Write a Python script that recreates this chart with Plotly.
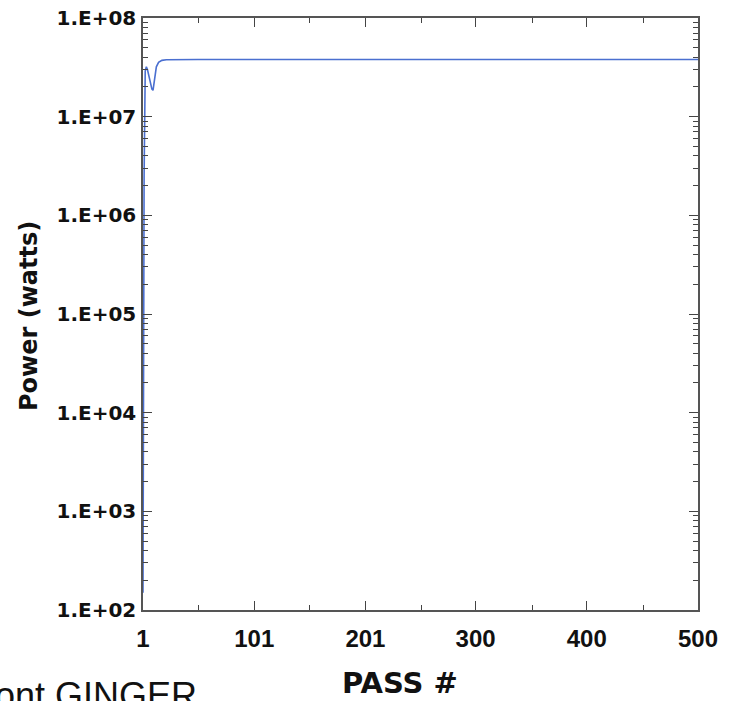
import plotly.graph_objects as go

passes = [1, 2, 3, 4, 5, 6, 7, 8, 9, 10, 11, 12, 13, 15, 18, 22, 30, 50, 100, 150, 200, 250, 300, 350, 400, 450, 500]
power = [150, 2.5e6, 2.9e7, 3.2e7, 3.0e7, 2.7e7, 2.3e7, 2.05e7, 1.9e7, 1.85e7, 2.3e7, 2.85e7, 3.2e7, 3.55e7, 3.72e7, 3.78e7, 3.8e7,
         3.8e7, 3.79e7, 3.8e7, 3.8e7, 3.79e7, 3.8e7, 3.8e7, 3.8e7, 3.8e7, 3.8e7]

x_tickvals = [1, 101, 201, 300, 400, 500]
x_ticktext = ["1", "101", "201", "300", "400", "500"]
x_minor = [51, 151, 251, 351, 451]
y_tickvals = [1e2, 1e3, 1e4, 1e5, 1e6, 1e7, 1e8]
y_ticktext = ["1.E+02", "1.E+03", "1.E+04", "1.E+05", "1.E+06", "1.E+07", "1.E+08"]

arial = "Liberation Sans, Arial, sans-serif"
dejavu = "DejaVu Sans, sans-serif"

fig = go.Figure()
fig.add_trace(go.Scatter(x=passes, y=power, mode="lines",
                         line=dict(color="#4a6fd0", width=1.6), showlegend=False))

axis_common = dict(showline=True, linecolor="#555555", linewidth=1.5, mirror="ticks",
                   ticks="inside", ticklen=9, tickwidth=1.3, tickcolor="#444444",
                   showgrid=False, zeroline=False, automargin=False)

fig.update_layout(
    width=741, height=701,
    margin=dict(l=143, r=43, t=18, b=91),
    paper_bgcolor="white", plot_bgcolor="white",
    xaxis=dict(range=[1, 500], tickvals=x_tickvals, ticktext=x_ticktext,
               minor=dict(tickvals=x_minor, ticklen=5, ticks="inside", tickcolor="#444444"),
               ticklabelstandoff=6,
               tickfont=dict(family=arial, size=24, color="#111111", weight="bold"),
               **axis_common),
    yaxis=dict(type="log", range=[2, 8], tickvals=y_tickvals, ticktext=y_ticktext,
               minor=dict(dtick="D1", ticklen=5, ticks="inside", tickcolor="#444444"),
               ticklabelstandoff=1,
               tickfont=dict(family=dejavu, size=20, color="#111111", weight="bold"),
               **axis_common),
    annotations=[
        dict(text="PASS #", xref="paper", yref="paper", x=(400 - 143) / 555, y=(610 - 683) / 592,
             xanchor="center", yanchor="middle", showarrow=False,
             font=dict(family=dejavu, size=29, color="#111111", weight="bold")),
        dict(text="Power (watts)", xref="paper", yref="paper", x=(29 - 143) / 555, y=(610 - 316) / 592,
             xanchor="center", yanchor="middle", textangle=-90, showarrow=False,
             font=dict(family=dejavu, size=24, color="#111111", weight="bold")),
        dict(text="ont GINGER", xref="paper", yref="paper", x=(-7 - 143) / 555, y=(610 - 695) / 592,
             xanchor="left", yanchor="middle", showarrow=False,
             font=dict(family=arial, size=36, color="#111111")),
    ],
)

fig.write_html("out.html")
